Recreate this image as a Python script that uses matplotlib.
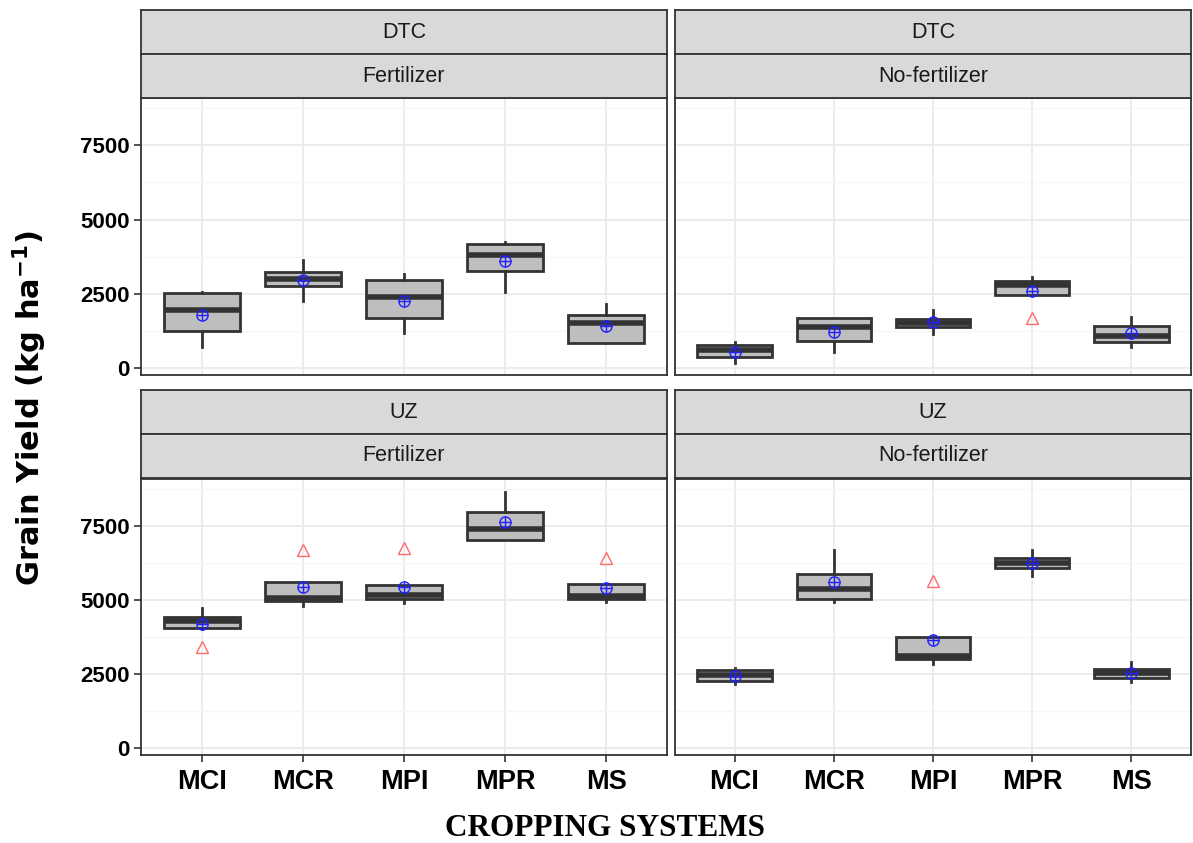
import matplotlib
matplotlib.use("Agg")
import matplotlib.pyplot as plt
from matplotlib.ticker import FixedLocator

# ---------------- data ----------------
categories = ["MCI", "MCR", "MPI", "MPR", "MS"]
locations = ["DTC", "DTC", "UZ", "UZ"]
treatments = ["Fertilizer", "No-fertilizer", "Fertilizer", "No-fertilizer"]

# one row per panel: DTC-Fert, DTC-NoFert, UZ-Fert, UZ-NoFert
whisker_low = [
    [730, 2270, 1200, 2560, 845],
    [170, 560, 1160, 2450, 710],
    [4040, 4795, 4885, 7010, 4920],
    [2170, 4920, 2850, 5825, 2230],
]
quartile_1 = [
    [1260, 2775, 1690, 3260, 845],
    [370, 920, 1385, 2450, 875],
    [4060, 4965, 5035, 7010, 5020],
    [2260, 5035, 3020, 6075, 2365],
]
median = [
    [1965, 3000, 2415, 3820, 1540],
    [620, 1385, 1515, 2810, 1090],
    [4285, 5080, 5170, 7395, 5145],
    [2475, 5370, 3110, 6245, 2535],
]
quartile_3 = [
    [2530, 3235, 2980, 4180, 1800],
    [785, 1685, 1665, 2945, 1425],
    [4435, 5600, 5510, 7960, 5540],
    [2660, 5880, 3755, 6415, 2680],
]
whisker_high = [
    [2560, 3655, 3180, 4235, 2160],
    [900, 1685, 1965, 3055, 1740],
    [4740, 5600, 5510, 8640, 5540],
    [2715, 6695, 3755, 6695, 2905],
]
mean_value = [
    [1800, 2965, 2270, 3600, 1425],
    [560, 1235, 1550, 2585, 1180],
    [4205, 5450, 5450, 7620, 5405],
    [2455, 5600, 3665, 6245, 2545],
]
outliers = [
    [[], [], [], [], []],
    [[], [], [], [1710], []],
    [[3415], [6695], [6750], [], [6410]],
    [[], [], [5645], [], []],
]
y_ticks = [0, 2500, 5000, 7500]
y_minor = [1250, 3750, 6250, 8750]

# ---------------- layout ----------------
W, H = 1193, 843
fig = plt.figure(figsize=(W / 100, H / 100), dpi=100)

col_x = [(141, 667), (675, 1191)]
row_plot = [(98, 375), (479, 755)]
row_strip_outer = [(10, 54), (390, 434)]
row_strip_inner = [(54, 98), (434, 478)]


def rect(x0, x1, y0, y1):
    return [x0 / W, 1 - y1 / H, (x1 - x0) / W, (y1 - y0) / H]


edge = "#333333"
sans = ["Liberation Sans", "DejaVu Sans"]

for p in range(4):
    r, c = divmod(p, 2)
    x0, x1 = col_x[c]
    y0, y1 = row_plot[r]
    ax = fig.add_axes(rect(x0, x1, y0, y1))
    ax.set_facecolor("white")

    stats = []
    for i in range(5):
        stats.append(dict(
            med=median[p][i], q1=quartile_1[p][i], q3=quartile_3[p][i],
            whislo=whisker_low[p][i], whishi=whisker_high[p][i],
            fliers=outliers[p][i],
        ))
    pos = list(range(1, 6))
    ax.bxp(
        stats, positions=pos, widths=0.75, patch_artist=True, showcaps=False,
        boxprops=dict(facecolor="#BEBEBE", edgecolor=edge, linewidth=2.0),
        medianprops=dict(color=edge, linewidth=4.0, solid_capstyle="butt"),
        whiskerprops=dict(color=edge, linewidth=2.0),
        flierprops=dict(marker="^", markerfacecolor="none",
                        markeredgecolor="#FF6B6B", markersize=9,
                        markeredgewidth=1.0),
        zorder=3,
    )
    ax.plot(pos, mean_value[p], linestyle="none", marker="o",
            markerfacecolor="none", markeredgecolor="#2020FF",
            markersize=8, markeredgewidth=1.0, zorder=5)
    ax.plot(pos, mean_value[p], linestyle="none", marker="+",
            markeredgecolor="#2020FF", markersize=8,
            markeredgewidth=1.0, zorder=5)

    ax.set_xlim(0.4, 5.6)
    ax.set_ylim(-220, 9080)
    ax.yaxis.set_major_locator(FixedLocator(y_ticks))
    ax.yaxis.set_minor_locator(FixedLocator(y_minor))
    ax.set_xticks(pos)
    ax.grid(True, which="major", color="#EBEBEB", linewidth=1.3, zorder=0)
    ax.grid(True, which="minor", axis="y", color="#F5F5F5", linewidth=0.9,
            zorder=0)
    ax.set_axisbelow(True)
    for s in ax.spines.values():
        s.set_color(edge)
        s.set_linewidth(1.3)
    ax.tick_params(which="minor", length=0)
    ax.tick_params(which="major", color=edge, length=5, width=1.2)

    if c == 0:
        ax.set_yticklabels([str(v) for v in y_ticks], fontsize=16,
                           fontweight="bold", family=sans)
        ax.tick_params(axis="y", pad=3)
    else:
        ax.tick_params(axis="y", length=0, labelleft=False)
    if r == 1:
        ax.set_xticklabels(categories, fontsize=19.5, fontweight="bold",
                           family=sans)
        ax.tick_params(axis="x", pad=5)
    else:
        ax.tick_params(axis="x", length=0, labelbottom=False)

    # strips
    for (sy0, sy1), label in ((row_strip_outer[r], locations[p]),
                              (row_strip_inner[r], treatments[p])):
        sax = fig.add_axes(rect(x0, x1, sy0, sy1))
        sax.set_facecolor("#D9D9D9")
        sax.set_xticks([])
        sax.set_yticks([])
        for s in sax.spines.values():
            s.set_color(edge)
            s.set_linewidth(1.3)
        sax.text(0.5, 0.5, label, ha="center", va="center", fontsize=15.5,
                 color="#1A1A1A", family=sans, transform=sax.transAxes)

fig.text(30 / W, 1 - 408 / H, r"Grain Yield (kg ha$^{\mathbf{-1}}$)",
         rotation=90, ha="center", va="center", fontsize=22,
         fontweight="bold", family="DejaVu Sans")
fig.text(605 / W, 1 - 829 / H, "CROPPING SYSTEMS", ha="center", va="center",
         fontsize=22.5, fontweight="bold", family="Liberation Serif")

fig.savefig("out.png", dpi=100, facecolor="white")
